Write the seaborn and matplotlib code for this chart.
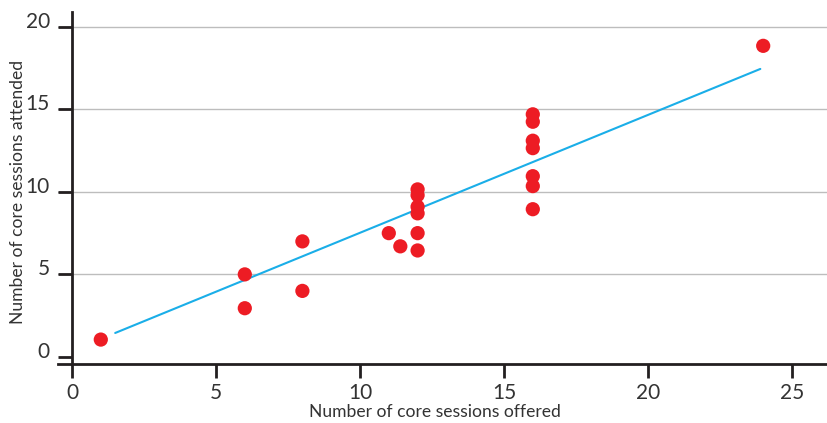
import matplotlib
matplotlib.use("Agg")
import matplotlib.pyplot as plt
import matplotlib.transforms as mtransforms
import seaborn as sns
import pandas as pd

sessions_offered = [1, 6, 6, 8, 8, 11, 11.4, 12, 12, 12, 12, 12, 12,
                    16, 16, 16, 16, 16, 16, 16, 24]
sessions_attended = [1.05, 5.0, 2.95, 7.0, 4.0, 7.5, 6.7, 10.15, 9.8, 9.1, 8.7, 7.5, 6.45,
                     14.7, 14.25, 13.1, 12.65, 10.95, 10.35, 8.95, 18.85]
trend_x = [1.5, 23.9]
trend_y = [1.45, 17.45]
x_ticks = [0, 5, 10, 15, 20, 25]
y_ticks = [0, 5, 10, 15, 20]

sns.set_theme(style="white")
plt.rcParams['font.family'] = ['Lato', 'DejaVu Sans']

df = pd.DataFrame({"offered": sessions_offered, "attended": sessions_attended})
trend = pd.DataFrame({"x": trend_x, "y": trend_y})

fig = plt.figure(figsize=(8.28, 4.23), dpi=100)
left_px = 57.6
ax = fig.add_axes([left_px/828, (423-364)/423, (828-left_px)/828, (364-12)/423])

for yv in y_ticks[1:]:
    ax.axhline(yv, color="#bdbdbd", lw=1.0, zorder=0)

sns.lineplot(data=trend, x="x", y="y", ax=ax, color="#1AAEE8", lw=1.5, zorder=2)
sns.scatterplot(data=df, x="offered", y="attended", ax=ax, color="#ED1C24",
                s=105, edgecolor="none", zorder=3)

ax.set_xlim(-0.5, 26.25)
ax.set_ylim(-0.43, 20.9)
ax.set_xticks(x_ticks)
ax.set_yticks(y_ticks)
ax.set_xticklabels([str(v) for v in x_ticks])
ax.set_yticklabels([str(v) for v in y_ticks])

for side in ["top", "right"]:
    ax.spines[side].set_visible(False)
ax.spines["left"].set_position(("data", 0))
ax.spines["bottom"].set_position(("data", -0.43))
for side in ["left", "bottom"]:
    ax.spines[side].set_color("#231F20")
    ax.spines[side].set_linewidth(2)

ax.tick_params(axis="both", which="major", direction="out", length=10, width=2,
               color="#231F20", labelsize=15, labelcolor="#333333")
ax.tick_params(axis="x", pad=4, bottom=True)
ax.tick_params(axis="y", pad=6, left=True)

offset = mtransforms.ScaledTranslation(0, 7/100, fig.dpi_scale_trans)
for lbl in ax.get_yticklabels():
    lbl.set_transform(lbl.get_transform() + offset)

ax.set_xlabel("Number of core sessions offered", fontsize=12.6, color="#333333")
ax.set_ylabel("Number of core sessions attended", fontsize=12.6, color="#333333")
ax.xaxis.set_label_coords((435 - left_px) / (828 - left_px), (364 - 404) / 352)
ax.yaxis.set_label_coords((26 - left_px) / (828 - left_px), (364 - 192) / 352)

fig.savefig("out.png", dpi=100)
